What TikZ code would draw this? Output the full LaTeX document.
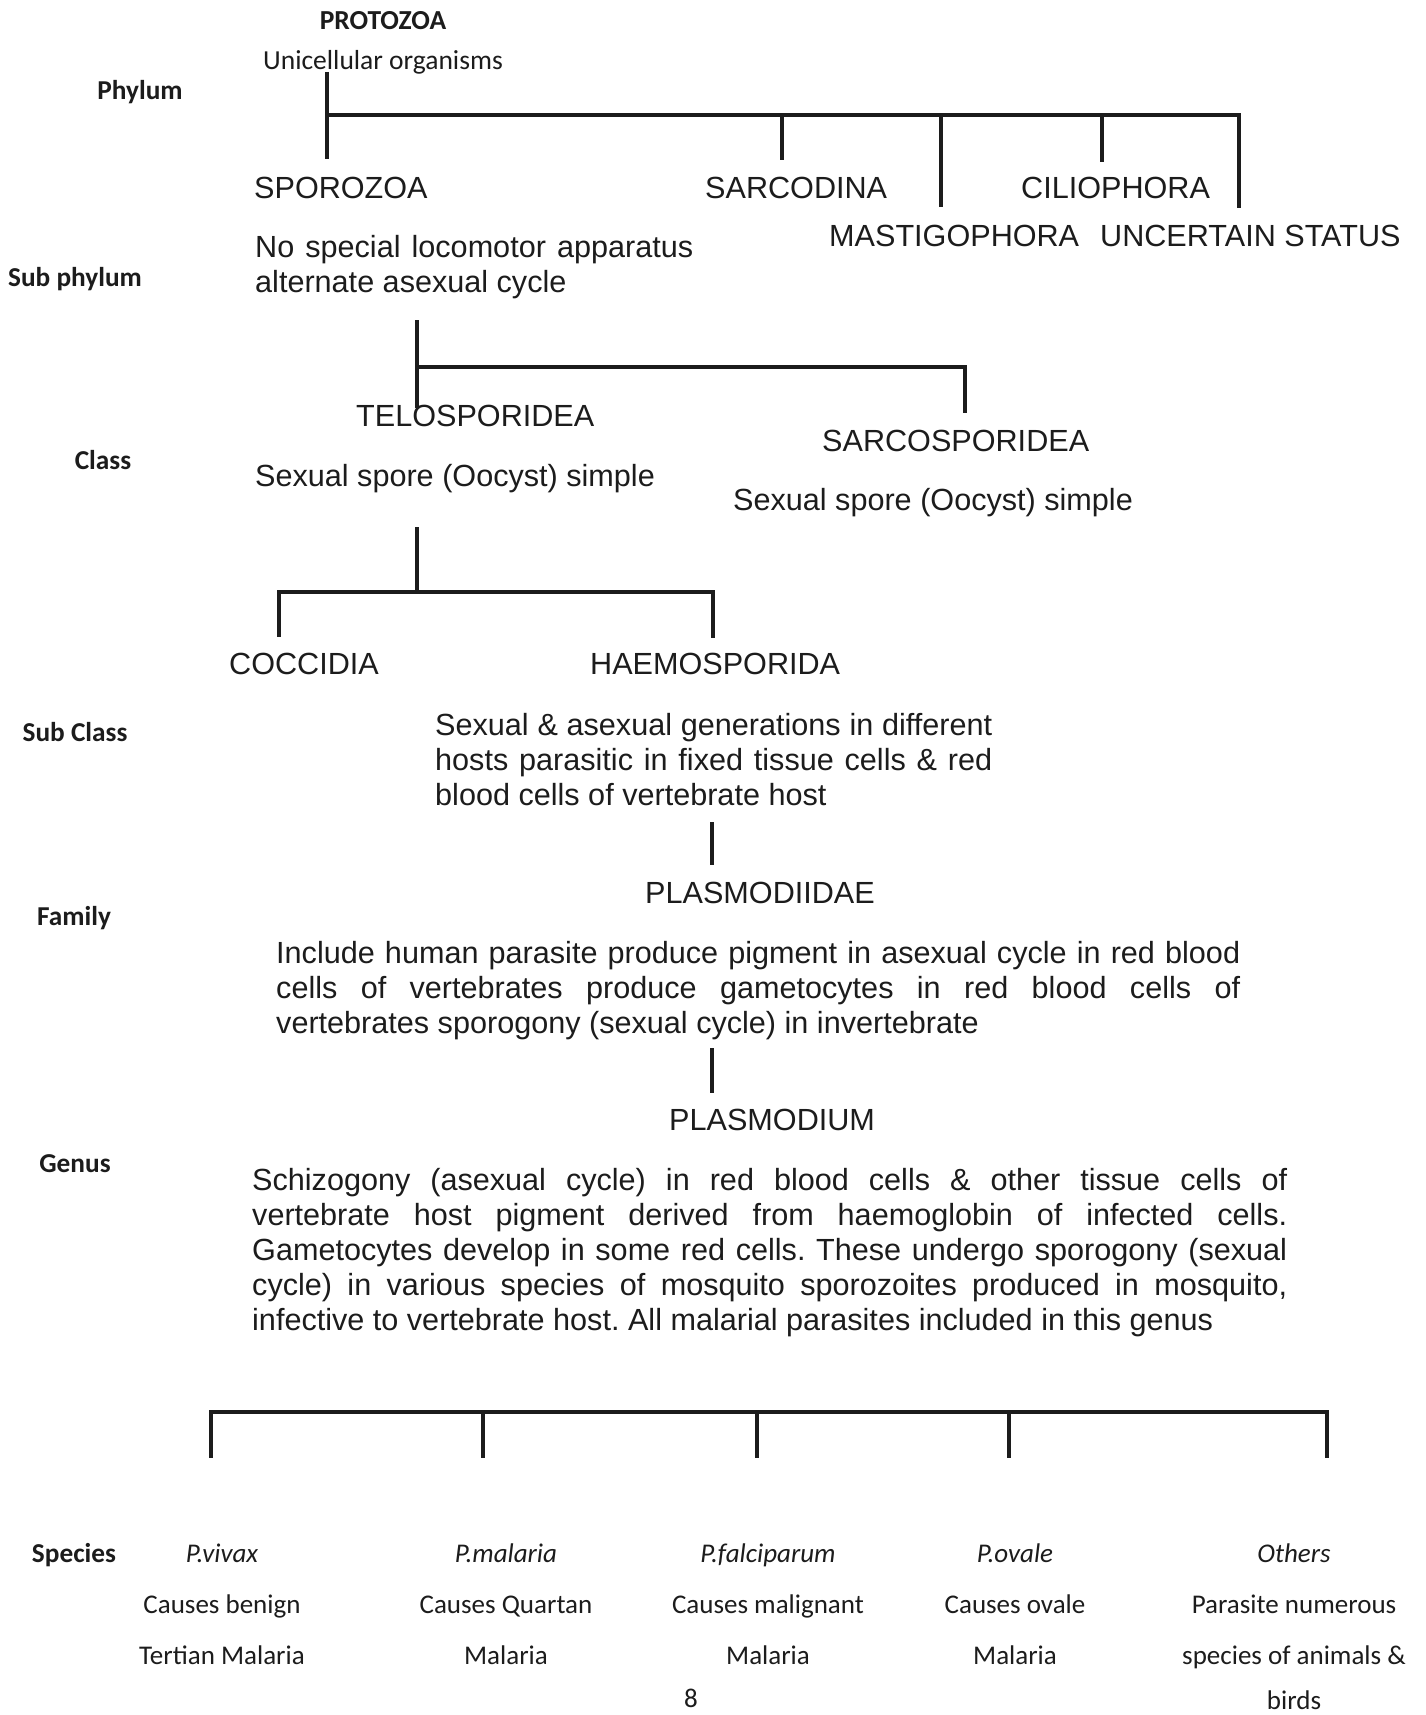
\documentclass[tikz,border=0pt]{standalone}
\usepackage{fontspec}
\setmainfont{Liberation Sans}
\newfontfamily\arw{Liberation Sans}
\newfontfamily\clb{Carlito}
\frenchspacing
\definecolor{ink}{HTML}{1C1C1C}
\tikzset{
  txt/.style={inner sep=0pt, anchor=base west, text=ink, font=\arw\fontsize{30.6}{35}\selectfont},
  lbl/.style={inner sep=0pt, anchor=base, text=ink, font=\clb\bfseries\fontsize{27.3}{30}\selectfont},
  spc/.style={inner sep=0pt, anchor=base, text=ink, font=\clb\fontsize{27}{30}\selectfont},
  spi/.style={spc, font=\clb\itshape\fontsize{27}{30}\selectfont},
  hbar/.style={draw=ink, line width=4.5pt, line cap=rect},
  vbar/.style={draw=ink, line width=3.5pt},
}
\begin{document}
\begin{tikzpicture}[x=1pt,y=-1pt]
\useasboundingbox (0,0) rectangle (1425,1715);
\fill[white] (0,0) rectangle (1425,1715);

% ---------- Phylum ----------
\node[lbl, font=\clb\bfseries\fontsize{27.5}{30}\selectfont] (protozoa) at (383,30) {PROTOZOA};
\node[spc, font=\clb\fontsize{27.5}{30}\selectfont] (unicell) at (383,70) {Unicellular organisms};
\node[lbl] (phylum) at (140,100) {Phylum};

\coordinate (t0) at (327,72);
\coordinate (t1) at (327,159);
\coordinate (tj) at (327,115);
\coordinate (tr) at (1239,115);
\coordinate (a1) at (782,115);  \coordinate (a1b) at (782,160);
\coordinate (a2) at (941,115);  \coordinate (a2b) at (941,207);
\coordinate (a3) at (1102,115); \coordinate (a3b) at (1102,162);
\coordinate (a4b) at (1239,208);
\draw[vbar] (t0) -- (t1);
\draw[hbar] (tj) -- (tr);
\draw[vbar] (a1) -- (a1b);
\draw[vbar] (a2) -- (a2b);
\draw[vbar] (a3) -- (a3b);
\draw[vbar] (tr) -- (a4b);

\node[txt] (sporozoa) at (254,198) {SPOROZOA};
\node[txt] (sarcodina) at (705,199) {SARCODINA};
\node[txt] (ciliophora) at (1021,199) {CILIOPHORA};
\node[txt] (mastigo) at (829,246) {MASTIGOPHORA};
\node[txt] (uncertain) at (1100,246) {UNCERTAIN STATUS};

% ---------- Sub phylum ----------
\node[txt] (spd1) at (255,257) {\makebox[438pt][s]{No special locomotor apparatus}};
\node[txt] (spd2) at (255,292) {alternate asexual cycle};
\node[lbl] (subphylum) at (75,286) {Sub phylum};

\coordinate (s0) at (417,320);
\coordinate (s1) at (417,408);
\coordinate (sj) at (417,367);
\coordinate (sr) at (965,367);
\coordinate (srb) at (965,413);
\draw[vbar] (s0) -- (s1);
\draw[hbar] (sj) -- (sr);
\draw[vbar] (sr) -- (srb);

% ---------- Class ----------
\node[txt] (telo) at (356,426) {TELOSPORIDEA};
\node[txt] (sarcosp) at (822,451) {SARCOSPORIDEA};
\node[lbl] (class) at (103,469) {Class};
\node[txt] (telod) at (255,486) {Sexual spore (Oocyst) simple};
\node[txt] (sarcospd) at (733,510) {Sexual spore (Oocyst) simple};

\coordinate (c0) at (417,527);
\coordinate (cj) at (417,592);
\coordinate (cl) at (279,592);
\coordinate (cr) at (713,592);
\coordinate (clb) at (279,637);
\coordinate (crb) at (713,638);
\draw[vbar] (c0) -- (cj);
\draw[hbar] (cl) -- (cr);
\draw[vbar] (cl) -- (clb);
\draw[vbar] (cr) -- (crb);

% ---------- Sub class ----------
\node[txt] (coccidia) at (229,674) {COCCIDIA};
\node[txt] (haemo) at (590,674) {HAEMOSPORIDA};
\node[txt] (hd1) at (435,735) {\makebox[557pt][s]{Sexual \& asexual generations in different}};
\node[txt] (hd2) at (435,770) {\makebox[557pt][s]{hosts parasitic in fixed tissue cells \& red}};
\node[txt] (hd3) at (435,805) {blood cells of vertebrate host};
\node[lbl] (subclass) at (75,741) {Sub Class};

\coordinate (f0) at (712,822);
\coordinate (f1) at (712,865);
\draw[vbar] (f0) -- (f1);

% ---------- Family ----------
\node[txt] (plasmodiidae) at (645,903) {PLASMODIIDAE};
\node[lbl] (family) at (74,925) {Family};
\node[txt] (fd1) at (276,963) {\makebox[964pt][s]{Include human parasite produce pigment in asexual cycle in red blood}};
\node[txt] (fd2) at (276,998) {\makebox[964pt][s]{cells of vertebrates produce gametocytes in red blood cells of}};
\node[txt] (fd3) at (276,1033) {vertebrates sporogony (sexual cycle) in invertebrate};

\coordinate (g0) at (712,1048);
\coordinate (g1) at (712,1093);
\draw[vbar] (g0) -- (g1);

% ---------- Genus ----------
\node[txt] (plasmodium) at (669,1130) {PLASMODIUM};
\node[lbl] (genus) at (75,1172) {Genus};
\node[txt] (gd1) at (252,1190) {\makebox[1035pt][s]{Schizogony (asexual cycle) in red blood cells \& other tissue cells of}};
\node[txt] (gd2) at (252,1225) {\makebox[1035pt][s]{vertebrate host pigment derived from haemoglobin of infected cells.}};
\node[txt] (gd3) at (252,1260) {\makebox[1035pt][s]{Gametocytes develop in some red cells. These undergo sporogony (sexual}};
\node[txt] (gd4) at (252,1295) {\makebox[1035pt][s]{cycle) in various species of mosquito sporozoites produced in mosquito,}};
\node[txt] (gd5) at (252,1330) {infective to vertebrate host. All malarial parasites included in this genus};

% ---------- Species ----------
\coordinate (b1) at (211,1412);
\coordinate (b2) at (483,1412);
\coordinate (b3) at (757,1412);
\coordinate (b4) at (1009,1412);
\coordinate (b5) at (1327,1412);
\coordinate (b1b) at (211,1458);
\coordinate (b2b) at (483,1458);
\coordinate (b3b) at (757,1458);
\coordinate (b4b) at (1009,1458);
\coordinate (b5b) at (1327,1458);
\draw[hbar] (b1) -- (b5);
\draw[vbar] (b1) -- (b1b);
\draw[vbar] (b2) -- (b2b);
\draw[vbar] (b3) -- (b3b);
\draw[vbar] (b4) -- (b4b);
\draw[vbar] (b5) -- (b5b);

\node[lbl] (species) at (74,1562) {Species};
\node[spi] (vivax) at (222,1562) {P.vivax};
\node[spi] (malaria) at (506,1562) {P.malaria};
\node[spi] (falci) at (768,1562) {P.falciparum};
\node[spi] (ovale) at (1015,1562) {P.ovale};
\node[spi] (others) at (1294,1562) {Others};

\node[spc] (vivax2) at (222,1613) {Causes benign};
\node[spc] (malaria2) at (506,1613) {Causes Quartan};
\node[spc] (falci2) at (768,1613) {Causes malignant};
\node[spc] (ovale2) at (1015,1613) {Causes ovale};
\node[spc] (others2) at (1294,1613) {Parasite numerous};

\node[spc] (vivax3) at (222,1664) {Tertian Malaria};
\node[spc] (malaria3) at (506,1664) {Malaria};
\node[spc] (falci3) at (768,1664) {Malaria};
\node[spc] (ovale3) at (1015,1664) {Malaria};
\node[spc] (others3) at (1294,1664) {species of animals \&};

\node[spc] (pagenum) at (691,1707) {8};
\node[spc] (others4) at (1294,1709) {birds};
\end{tikzpicture}
\end{document}
